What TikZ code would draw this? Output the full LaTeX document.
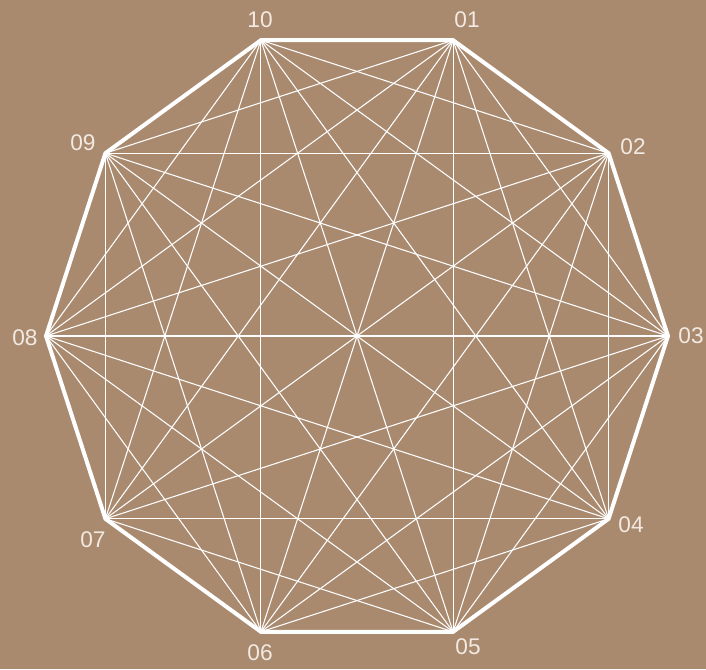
\documentclass[tikz,border=0pt]{standalone}
\usepackage{fontspec}
\setmainfont{Liberation Sans}
\usepackage{tikz}
\usetikzlibrary{calc}
\definecolor{bgbrown}{RGB}{169, 138, 111}
\definecolor{labelcream}{RGB}{242, 234, 226}

\begin{document}
\begin{tikzpicture}[x=0.75pt, y=0.75pt,
    edge/.style={white, line width=3pt, line join=miter},
    chord/.style={white, line width=0.8pt},
    vlabel/.style={text=labelcream, font=\fontsize{17}{17}\selectfont, inner sep=0pt}]
    % Background
    \fill[bgbrown] (0, 0) rectangle (706, 669);
    \useasboundingbox (0, 0) rectangle (706, 669);

    % Vertices of the decagon
    \coordinate (c) at (357, 333);
    \foreach \k in {1,...,10}
        \coordinate (v\k) at ($(c) + ({108 - 36*\k}:311)$);

    % All diagonals
    \foreach \i in {1,...,10}
        \foreach \j in {\i,...,10}
            \draw[chord] (v\i) -- (v\j);

    % Outline
    \draw[edge] (v1) -- (v2) -- (v3) -- (v4) -- (v5) -- (v6) -- (v7) -- (v8) -- (v9) -- (v10) -- cycle;

    % Labels
    \node[vlabel] (l1) at (467, 649) {01};
    \node[vlabel] (l2) at (633, 522) {02};
    \node[vlabel] (l3) at (691, 333) {03};
    \node[vlabel] (l4) at (631, 144) {04};
    \node[vlabel] (l5) at (468, 22) {05};
    \node[vlabel] (l6) at (260, 16) {06};
    \node[vlabel] (l7) at (93, 129) {07};
    \node[vlabel] (l8) at (25, 331) {08};
    \node[vlabel] (l9) at (83, 526) {09};
    \node[vlabel] (l10) at (260, 649) {10};
\end{tikzpicture}
\end{document}
